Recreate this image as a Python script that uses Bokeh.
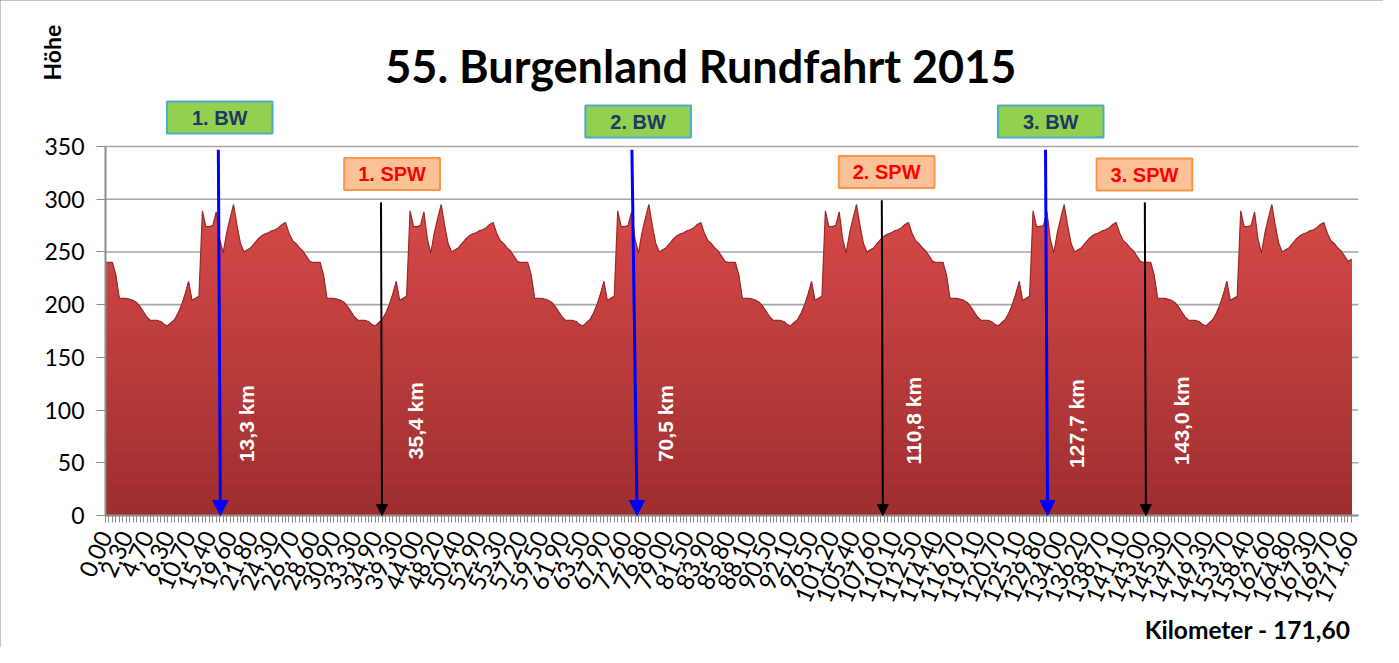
import numpy as np
from bokeh.plotting import figure
from bokeh.models import Range1d, FixedTicker, Label, Arrow, NormalHead, ColumnDataSource
from bokeh.core.properties import value
from bokeh.embed import file_html
from bokeh.resources import INLINE

# ---------------- data ----------------
km_labels = ["0,00", "2,30", "4,70", "6,30", "10,70", "15,40", "19,60", "21,80", "24,30", "26,70",
             "28,60", "30,90", "33,30", "34,90", "39,30", "44,00", "48,20", "50,40", "52,90", "55,30",
             "57,20", "59,50", "61,90", "63,50", "67,90", "72,60", "76,80", "79,00", "81,50", "83,90",
             "85,80", "88,10", "90,50", "92,10", "96,50", "101,20", "105,40", "107,60", "110,10", "112,50",
             "114,40", "116,70", "119,10", "120,70", "125,10", "129,80", "134,00", "136,20", "138,70", "141,10",
             "143,00", "145,30", "147,70", "149,30", "153,70", "158,40", "162,60", "164,80", "167,30", "169,70",
             "171,60"]

lap1 = [240, 240, 240, 228, 206, 206, 206, 205, 204, 202,
        198, 193, 188, 185, 185, 185, 184, 181, 180, 183,
        186, 192, 200, 210, 222, 204, 206, 208, 289, 274,
        274, 275, 288, 262, 249, 268, 282, 295, 275, 258,
        250, 252, 254, 258, 262, 265, 267, 268, 270, 271,
        273, 276, 278, 268, 261, 258, 254, 251, 246, 241]
lap2 = [240, 240, 240, 228, 206, 206, 206, 205, 204, 202,
        198, 193, 188, 185, 185, 185, 184, 181, 180, 183,
        186, 192, 200, 210, 222, 204, 206, 208, 289, 274,
        274, 275, 288, 262, 249, 268, 282, 295, 275, 258,
        250, 252, 254, 258, 262, 265, 267, 268, 270, 271,
        273, 276, 278, 268, 261, 258, 254, 251, 246, 241]
lap3 = [240, 240, 240, 228, 206, 206, 206, 205, 204, 202,
        198, 193, 188, 185, 185, 185, 184, 181, 180, 183,
        186, 192, 200, 210, 222, 204, 206, 208, 289, 274,
        274, 275, 288, 262, 249, 268, 282, 295, 275, 258,
        250, 252, 254, 258, 262, 265, 267, 268, 270, 271,
        273, 276, 278, 268, 261, 258, 254, 251, 246, 241]
lap4 = [240, 240, 240, 228, 206, 206, 206, 205, 204, 202,
        198, 193, 188, 185, 185, 185, 184, 181, 180, 183,
        186, 192, 200, 210, 222, 204, 206, 208, 289, 274,
        274, 275, 288, 262, 249, 268, 282, 295, 275, 258,
        250, 252, 254, 258, 262, 265, 267, 268, 270, 271,
        273, 276, 278, 268, 261, 258, 254, 251, 246, 241]
lap5 = [240, 240, 240, 228, 206, 206, 206, 205, 204, 202,
        198, 193, 188, 185, 185, 185, 184, 181, 180, 183,
        186, 192, 200, 210, 222, 204, 206, 208, 289, 274,
        274, 275, 288, 262, 249, 268, 282, 295, 275, 258,
        250, 252, 254, 258, 262, 265, 267, 268, 270, 271,
        273, 276, 278, 268, 261, 258, 254, 251, 246, 241]
lap6 = [240, 240, 240, 228, 206, 206, 206, 205, 204, 202,
        198, 193, 188, 185, 185, 185, 184, 181, 180, 183,
        186, 192, 200, 210, 222, 204, 206, 208, 289, 274,
        274, 275, 288, 262, 249, 268, 282, 295, 275, 258,
        250, 252, 254, 258, 262, 265, 267, 268, 270, 271,
        273, 276, 278, 268, 261, 258, 254, 251, 246, 241]
finish = [243]

y_ticks = [0, 50, 100, 150, 200, 250, 300, 350]

# Bergwertung (BW) arrows, blue; Sprintwertung (SPW) arrows, black (category-index positions)
bw_names = ["1. BW", "2. BW", "3. BW"]
bw_km_text = ["13,3  km", "70,5  km", "127,7  km"]
bw_x_top = [32.6, 152.1, 271.6]
bw_x_bot = [33.2, 153.6, 272.2]
bw_top = 347
bw_box_x = [33.0, 153.9, 273.1]
bw_box_y = [377.5, 373.7, 373.7]
bw_text_x = [40.7, 161.7, 280.6]

spw_names = ["1. SPW", "2. SPW", "3. SPW"]
spw_km_text = ["35,4 km", "110,8 km", "143,0 km"]
spw_x = [79.6, 224.3, 300.3]
spw_top = [297, 299, 297]
spw_box_x = [82.8, 225.7, 300.2]
spw_box_y = [324.0, 325.8, 323.4]
spw_text_x = [89.5, 233.5, 310.9]
km_text_y = 90

elevation = lap1 + lap2 + lap3 + lap4 + lap5 + lap6 + finish
idx = np.arange(len(elevation))
elev = np.array(elevation, dtype=float)

# ---------------- layout (frame = whole canvas) ----------------
W, H = 1383, 647
px_cat = 3.461          # pixels per category
px_m = 1.0543           # pixels per metre of height
x0_px, y0_px = 105, 515  # canvas position of (0, 0)
x_end = 362
x_range = Range1d(-x0_px / px_cat, (W - x0_px) / px_cat)
y_range = Range1d(-(H - y0_px) / px_m, y0_px / px_m)

p = figure(width=W, height=H, output_backend="svg", toolbar_location=None,
           x_range=x_range, y_range=y_range,
           min_border_left=0, min_border_right=0, min_border_top=0, min_border_bottom=0)
p.title.visible = False
p.outline_line_color = None
p.background_fill_color = "white"
p.border_fill_color = "white"
p.styles = {"outline": "1px solid #8a8a8a", "outline-offset": "-1px"}
p.xgrid.visible = False
p.ygrid.visible = False

# horizontal grid lines at the y ticks
p.segment(x0=[0] * len(y_ticks), x1=[x_end] * len(y_ticks), y0=y_ticks, y1=y_ticks,
          line_color="#a6a6a6", line_width=1.6)

# gradient-like fill: bright top, darker towards the bottom
top_rgb = np.array([214, 74, 72])
bot_rgb = np.array([158, 46, 47])
p.varea(x=idx, y1=0, y2=elev, fill_color="#%02x%02x%02x" % tuple(top_rgb))
for h in np.arange(290, 0, -10):
    t = h / 300.0
    c = bot_rgb + (top_rgb - bot_rgb) * t
    p.varea(x=idx, y1=0, y2=np.minimum(elev, h),
            fill_color="#%02x%02x%02x" % tuple(int(v) for v in c))
p.line(idx, elev, line_color="#9a2b2b", line_width=1.2)

# axes (placed inside the canvas-wide frame)
xa = p.xaxis[0]
xa.fixed_location = 0
xa.bounds = (0, x_end)
xa.ticker = FixedTicker(ticks=[i * 6 for i in range(len(km_labels))],
                        minor_ticks=list(range(len(elevation))))
xa.major_label_overrides = {i * 6: lab for i, lab in enumerate(km_labels)}
xa.major_label_orientation = 1.15
xa.major_label_text_font = "Lato"
xa.major_label_text_font_size = "24px"
xa.major_label_text_color = "black"
xa.major_label_standoff = 10
xa.axis_line_color = "#8c8c8c"
xa.axis_line_width = 2
xa.major_tick_in = 0
xa.major_tick_out = 7
xa.minor_tick_in = 0
xa.minor_tick_out = 7
xa.major_tick_line_color = "#8c8c8c"
xa.minor_tick_line_color = "#8c8c8c"

ya = p.yaxis[0]
ya.fixed_location = 0
ya.bounds = (0, 350)
ya.ticker = FixedTicker(ticks=y_ticks)
ya.major_label_text_font = "Lato"
ya.major_label_text_font_size = "23px"
ya.major_label_text_color = "black"
ya.major_label_standoff = 12
ya.axis_line_color = "#8c8c8c"
ya.axis_line_width = 2
ya.major_tick_in = 0
ya.major_tick_out = 9
ya.major_tick_line_color = "#8c8c8c"
ya.minor_tick_line_color = None

# arrows
for xt, xb in zip(bw_x_top, bw_x_bot):
    p.add_layout(Arrow(x_start=xt, y_start=bw_top, x_end=xb, y_end=0,
                       line_color="#0000ff", line_width=3,
                       end=NormalHead(size=15, fill_color="#0000ff", line_color="#0000ff")))
for xs, yt in zip(spw_x, spw_top):
    p.add_layout(Arrow(x_start=xs, y_start=yt, x_end=xs + 0.3, y_end=0,
                       line_color="black", line_width=2,
                       end=NormalHead(size=11, fill_color="black", line_color="black")))

# km texts (white, vertical)
src = ColumnDataSource(dict(x=bw_text_x + spw_text_x,
                            y=[km_text_y] * 6,
                            t=bw_km_text + spw_km_text))
p.text(x="x", y="y", text="t", source=src, angle=np.pi / 2,
       text_font=value("Liberation Sans"), text_font_style="bold",
       text_font_size="21px", text_color="white",
       text_align="center", text_baseline="middle")

# boxes
def box(name, bx, by, fill, border, tcolor, hpad):
    p.add_layout(Label(x=bx, y=by, text=name, x_offset=3, y_offset=-3,
                       text_font="Liberation Sans", text_font_style="bold", text_font_size="20px",
                       text_alpha=0.0, text_align="center", text_baseline="middle",
                       background_fill_color="#b5b5b5", background_fill_alpha=0.6,
                       padding=(hpad, 5)))
    p.add_layout(Label(x=bx, y=by, text=name,
                       text_font="Liberation Sans", text_font_style="bold", text_font_size="20px",
                       text_color=tcolor, text_align="center", text_baseline="middle",
                       background_fill_color=fill, border_line_color=border,
                       border_line_width=2, padding=(hpad, 5)))

for name, bx, by in zip(bw_names, bw_box_x, bw_box_y):
    box(name, bx, by, "#92d050", "#4bacc6", "#1f3864", 25)
for name, bx, by in zip(spw_names, spw_box_x, spw_box_y):
    box(name, bx, by, "#fcc197", "#f79646", "#ff0000", 14)

# titles
p.add_layout(Label(x=172, y=426, text="55. Burgenland Rundfahrt 2015",
                   text_font="Lato", text_font_style="bold", text_font_size="45px",
                   text_color="black", text_align="center", text_baseline="middle"))
p.add_layout(Label(x=-15.4, y=439, text="Höhe", angle=np.pi / 2,
                   text_font="Lato", text_font_style="bold", text_font_size="23px",
                   text_color="black", text_align="center", text_baseline="middle"))
p.add_layout(Label(x=359.7, y=-108, text="Kilometer - 171,60",
                   text_font="Lato", text_font_style="bold", text_font_size="24.5px",
                   text_color="black", text_align="right", text_baseline="middle"))

open("out.html", "w").write(file_html(p, INLINE))
